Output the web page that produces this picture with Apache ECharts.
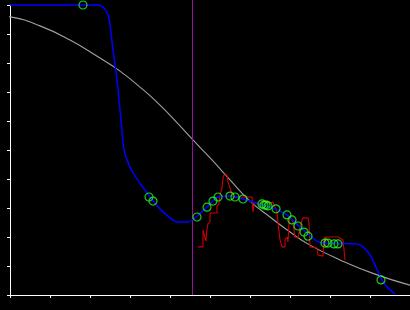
<!DOCTYPE html>
<html>
<head>
<meta charset="utf-8">
<script src="https://cdn.jsdelivr.net/npm/echarts@6/dist/echarts.min.js"></script>
<style>
html, body { margin: 0; padding: 0; background: #000; }
#chart { width: 410px; height: 310px; }
</style>
</head>
<body>
<div id="chart"></div>
<script>
// values (x and y both run 0..10, no labels)
var grayCurve = [
	[-0.25, 9.62], [0, 9.59], [0.75, 9.28], [1.5, 8.79], [2.25, 8.17], [2.75, 7.72],
	[3.25, 7.17], [3.75, 6.55], [4.25, 5.83], [4.55, 5.38], [5.05, 4.66], [5.5, 3.97],
	[6.0, 3.24], [6.5, 2.69], [7.0, 2.17], [7.5, 1.72], [8.25, 1.21], [9.125, 0.72],
	[10, 0.34]
];
var blueCurve = [
	[0, 10], [2.175, 10], [2.325, 9.93], [2.45, 9.66], [2.5, 9.31], [2.575, 8.45],
	[2.675, 7.41], [2.75, 6.38], [2.8, 5.69], [2.85, 5.0], [2.925, 4.66], [3.075, 4.21],
	[3.425, 3.52], [3.575, 3.24], [3.75, 2.97], [4.0, 2.66], [4.175, 2.52], [4.45, 2.52],
	[4.675, 2.72], [4.925, 3.03], [5.2, 3.38], [5.5, 3.41], [5.825, 3.31], [6.325, 3.10],
	[6.625, 2.97], [6.925, 2.76], [7.25, 2.34], [7.675, 1.86], [7.825, 1.79], [8.675, 1.76],
	[8.825, 1.66], [9.0, 1.38], [9.125, 1.03], [9.3, 0.52], [9.425, 0.28], [9.625, 0.03]
];
var redTrace = [
	[4.7, 1.66], [4.825, 1.66], [4.825, 2.24], [4.875, 2.24], [4.9, 1.86], [4.925, 2.28],
	[4.95, 2.45], [5.0, 2.52], [5.0, 2.83], [5.175, 2.83], [5.175, 3.07], [5.225, 3.14],
	[5.25, 3.45], [5.3, 3.69], [5.325, 4.03], [5.35, 4.14], [5.425, 4.14], [5.45, 3.90],
	[5.5, 3.69], [5.575, 3.38], [6.05, 3.38], [6.075, 2.86], [6.1, 3.17], [6.175, 3.17],
	[6.25, 3.10], [6.325, 3.24], [6.45, 3.24], [6.5, 3.17], [6.575, 3.21], [6.625, 3.03],
	[6.675, 2.86], [6.7, 2.48], [6.75, 1.90], [6.8, 1.66], [6.875, 1.66], [6.875, 1.90],
	[6.925, 2.00], [6.95, 1.83], [6.975, 2.48], [7.0, 2.69], [7.075, 2.52], [7.125, 2.00],
	[7.2, 1.97], [7.25, 2.31], [7.3, 2.59], [7.325, 2.66], [7.45, 2.66], [7.475, 2.48],
	[7.5, 1.66], [7.675, 1.62], [7.7, 1.38], [7.825, 1.34], [7.85, 1.90], [7.875, 2.00],
	[7.875, 1.66], [7.9, 2.00], [8.125, 2.00], [8.2, 2.00], [8.325, 1.90], [8.375, 1.90],
	[8.375, 1.21]
];
var greenPoints = [
	[1.825, 10.0], [3.475, 3.38], [3.575, 3.24], [4.675, 2.69], [4.925, 3.03], [5.075, 3.24],
	[5.2, 3.38], [5.5, 3.41], [5.625, 3.38], [5.825, 3.31], [6.3, 3.14], [6.35, 3.10],
	[6.4, 3.10], [6.45, 3.07], [6.65, 2.97], [6.925, 2.76], [7.05, 2.59], [7.2, 2.38],
	[7.35, 2.17], [7.45, 2.03], [7.875, 1.79], [7.95, 1.79], [8.1, 1.76], [8.2, 1.76],
	[9.275, 0.52]
];
var markerX = 4.5625;

var chart = echarts.init(document.getElementById("chart"));
chart.setOption({
	backgroundColor: "#000",
	animation: false,
	grid: {
		top: 5,
		left: 10,
		right: 0,
		bottom: 15,
		containLabel: false
	},
	xAxis: {
		type: "value",
		min: 0,
		max: 10,
		interval: 1,
		axisLine: { show: true, lineStyle: { color: "#fff", width: 1 } },
		axisTick: { show: true, length: 3, lineStyle: { color: "#fff" } },
		axisLabel: { show: false },
		splitLine: { show: false }
	},
	yAxis: {
		type: "value",
		min: 0,
		max: 10,
		interval: 1,
		axisLine: { show: true, lineStyle: { color: "#fff", width: 1 } },
		axisTick: { show: true, length: 3, lineStyle: { color: "#fff" } },
		axisLabel: { show: false },
		splitLine: { show: false }
	},
	series: [
		{
			type: "line",
			data: grayCurve,
			smooth: true,
			showSymbol: false,
			clip: false,
			lineStyle: { color: "#a0a0a0", width: 1.1 },
			z: 2
		},
		{
			type: "line",
			data: [[markerX, 0], [markerX, 10.17]],
			showSymbol: false,
			clip: false,
			lineStyle: { color: "#9a109a", width: 1 },
			z: 2
		},
		{
			type: "line",
			data: redTrace,
			showSymbol: false,
			lineStyle: { color: "#d00000", width: 1.1 },
			z: 3
		},
		{
			type: "line",
			data: blueCurve,
			smooth: 0.3,
			showSymbol: false,
			clip: false,
			lineStyle: { color: "#0000ff", width: 1.5 },
			z: 4
		},
		{
			type: "scatter",
			data: greenPoints,
			symbol: "circle",
			symbolSize: 8,
			clip: false,
			itemStyle: { color: "transparent", borderColor: "#22ff22", borderWidth: 1.2 },
			z: 5
		}
	]
});
</script>
</body>
</html>
